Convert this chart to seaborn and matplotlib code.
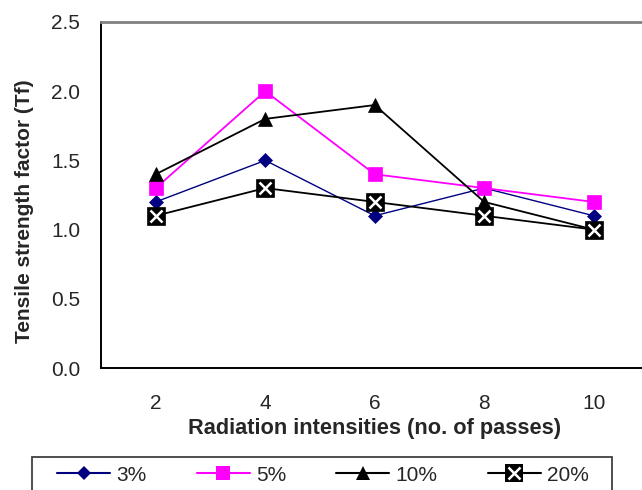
import numpy as np
import pandas as pd
import matplotlib
matplotlib.use('Agg')
import matplotlib.pyplot as plt
import seaborn as sns
from matplotlib.lines import Line2D
from matplotlib.patches import Rectangle
from matplotlib.legend_handler import HandlerTuple

# Data
passes = ['2', '4', '6', '8', '10']
tf_3 = [1.2, 1.5, 1.1, 1.3, 1.1]
tf_5 = [1.3, 2.0, 1.4, 1.3, 1.2]
tf_10 = [1.4, 1.8, 1.9, 1.2, 1.0]
tf_20 = [1.1, 1.3, 1.2, 1.1, 1.0]
labels = ['3%', '5%', '10%', '20%']

df = pd.DataFrame({
    'passes': passes * 4,
    'pos': list(range(len(passes))) * 4,
    'tf': tf_3 + tf_5 + tf_10 + tf_20,
    'conc': np.repeat(labels, len(passes)),
})

sns.set_style('white')
plt.rcParams['font.family'] = ['Liberation Sans', 'DejaVu Sans']
FS = 15

fig = plt.figure(figsize=(6.42, 4.90), dpi=100)
ax = fig.add_axes([101 / 642, 1 - 368 / 490, (648.5 - 101) / 642, (368 - 22) / 490])

styles = {
    '3%': dict(color='#000080', marker='D', ms=7.5, lw=1.0),
    '5%': dict(color='#FF00FF', marker='s', ms=10.5, lw=1.3),
    '10%': dict(color='black', marker='^', ms=10, lw=1.3),
    '20%': dict(color='black', marker='s', ms=13, lw=1.3),
}

for lab in labels:
    st = styles[lab]
    sub = df[df['conc'] == lab]
    sns.lineplot(data=sub, x='pos', y='tf', ax=ax, color=st['color'],
                 marker=st['marker'], markersize=st['ms'], linewidth=st['lw'],
                 markeredgecolor=st['color'], markeredgewidth=0.5, legend=False)

# white cross on the 20% squares
sub20 = df[df['conc'] == '20%']
ax.plot(sub20['pos'], sub20['tf'], linestyle='none', marker='x', ms=9,
        mec='white', mew=1.8, zorder=5)

ax.set_xlim(-0.5, 4.5)
ax.set_ylim(0, 2.5)
yt = np.arange(0, 2.51, 0.5)
ax.set_yticks(yt)
ax.set_yticklabels([f'{v:.1f}' for v in yt], fontsize=FS)
ax.set_xticks(range(len(passes)))
ax.set_xticklabels(passes, fontsize=FS)
ax.set_xticks(np.arange(-0.5, 5.0, 1.0), minor=True)
ax.tick_params(axis='x', which='major', length=0, pad=19)
ax.tick_params(axis='x', which='minor', length=6, width=1.2, color='black', direction='out')
ax.tick_params(axis='y', length=6, width=1.2, color='black', direction='out', pad=9)

ax.set_xlabel('Radiation intensities (no. of passes)', fontsize=15.7,
              fontweight='bold', labelpad=3)
ax.set_ylabel('Tensile strength factor (Tf)', fontsize=FS, fontweight='bold')
ax.yaxis.set_label_coords(-0.122, 0.452)

for s in ['left', 'bottom']:
    ax.spines[s].set_color('black')
    ax.spines[s].set_linewidth(1.4)
ax.spines['top'].set_color('#808080')
ax.spines['top'].set_linewidth(2)
ax.spines['right'].set_visible(False)

# legend frame (runs off the bottom of the picture)
fig.patches.append(Rectangle((32 / 642, 1 - 496 / 490), (612 - 32) / 642, 39 / 490,
                             transform=fig.transFigure, fill=False,
                             edgecolor='#404040', linewidth=1.3))

h3 = Line2D([], [], color='#000080', marker='D', ms=7.5, lw=1.5, mew=0)
h5 = Line2D([], [], color='#FF00FF', marker='s', ms=10.5, lw=1.5, mew=0)
h10 = Line2D([], [], color='black', marker='^', ms=10, lw=1.5, mew=0)
h20a = Line2D([], [], color='black', marker='s', ms=13, lw=1.5, mew=0)
h20b = Line2D([], [], color='none', marker='x', ms=9, mec='white', mew=1.8)
leg = fig.legend([h3, h5, h10, (h20a, h20b)], labels,
                 handler_map={tuple: HandlerTuple(ndivide=1)},
                 loc='center left', bbox_to_anchor=(57 / 642, 1 - 475 / 490),
                 ncol=4, fontsize=FS, frameon=False,
                 handlelength=53 / 20.8, handletextpad=0.3,
                 borderpad=0, columnspacing=2.4, borderaxespad=0)

fig.savefig('out.png', dpi=100)
